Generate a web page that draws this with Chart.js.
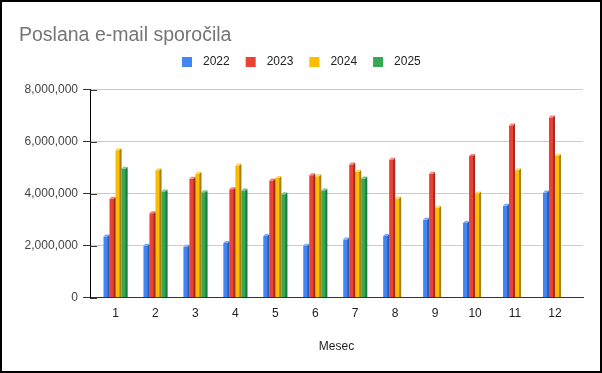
<!DOCTYPE html>
<html>
<head>
<meta charset="utf-8">
<title>Poslana e-mail sporočila</title>
<script src="https://cdn.jsdelivr.net/npm/chart.js@4/dist/chart.umd.min.js"></script>
<style>
    html, body { margin: 0; padding: 0; background: #fff; }
    canvas { display: block; }
</style>
</head>
<body>
<canvas id="emailChart" width="602" height="373"></canvas>
<script>
// Chart data
const months = [1, 2, 3, 4, 5, 6, 7, 8, 9, 10, 11, 12];
const years = ['2022', '2023', '2024', '2025'];
const sent2022 = [2350000, 1990000, 1950000, 2100000, 2370000, 1990000, 2230000, 2370000, 2990000, 2870000, 3530000, 4040000];
const sent2023 = [3800000, 3240000, 4570000, 4160000, 4500000, 4700000, 5120000, 5300000, 4760000, 5440000, 6620000, 6920000];
const sent2024 = [5660000, 4890000, 4760000, 5080000, 4600000, 4660000, 4840000, 3810000, 3450000, 4000000, 4890000, 5440000];
const sent2025 = [4950000, 4080000, 4050000, 4120000, 3970000, 4120000, 4580000, null, null, null, null, null];
const yTicks = [0, 2000000, 4000000, 6000000, 8000000];

// Colours (front, side, top)
const frontColors = ['#4285f4', '#ea4335', '#fbbc04', '#34a853'];
const sideColors = ['#2c5fb3', '#a22c22', '#a88000', '#217a3a'];
const topColors = ['#80aaf8', '#f2837a', '#fdd566', '#7cc893'];

const FONT = "Arial, 'Liberation Sans', sans-serif";

function toPoints(values) {
    return months.map(function(m, i) {
        return { x: m, y: values[i] };
    });
}

// Fake 3D side and top faces on every bar
const bar3d = {
    id: 'bar3d',
    afterDatasetsDraw(chart) {
        const ctx = chart.ctx;
        const depth = 2;
        chart.data.datasets.forEach(function(ds, di) {
            const meta = chart.getDatasetMeta(di);
            meta.data.forEach(function(el, i) {
                if (ds.data[i].y == null) return;
                const p = el.getProps(['x', 'y', 'base', 'width'], true);
                const left = p.x - p.width / 2;
                const right = left + p.width;
                const fx = right - depth;
                ctx.save();
                // side
                ctx.fillStyle = sideColors[di];
                ctx.beginPath();
                ctx.moveTo(fx, p.y);
                ctx.lineTo(right, p.y - depth);
                ctx.lineTo(right, p.base);
                ctx.lineTo(fx, p.base);
                ctx.closePath();
                ctx.fill();
                // top
                ctx.fillStyle = topColors[di];
                ctx.beginPath();
                ctx.moveTo(left, p.y);
                ctx.lineTo(left + depth, p.y - depth);
                ctx.lineTo(right, p.y - depth);
                ctx.lineTo(fx, p.y);
                ctx.closePath();
                ctx.fill();
                ctx.restore();
            });
        });
    }
};

// Legend row, border and inner tick stubs
const decorations = {
    id: 'decorations',
    afterDraw(chart) {
        const ctx = chart.ctx;
        const area = chart.chartArea;
        ctx.save();

        // y tick stubs crossing the axis
        const yScale = chart.scales.y;
        ctx.strokeStyle = '#333';
        ctx.lineWidth = 1;
        yTicks.forEach(function(v) {
            const py = Math.round(yScale.getPixelForValue(v)) + 0.5;
            ctx.beginPath();
            ctx.moveTo(area.left, py);
            ctx.lineTo(area.left + 7, py);
            ctx.stroke();
        });

        // legend
        ctx.font = '12px ' + FONT;
        ctx.textBaseline = 'middle';
        const boxSize = 10, gap = 11, itemGap = 16, legendY = 62;
        const widths = chart.data.datasets.map(function(ds) {
            return boxSize + gap + ctx.measureText(ds.label).width;
        });
        const total = widths.reduce(function(a, b) { return a + b; }, 0) + itemGap * (widths.length - 1);
        let x = Math.round((chart.width - total) / 2);
        chart.data.datasets.forEach(function(ds, i) {
            ctx.fillStyle = ds.backgroundColor;
            ctx.fillRect(x, legendY - boxSize / 2, boxSize, boxSize);
            ctx.fillStyle = '#222';
            ctx.fillText(ds.label, x + boxSize + gap, legendY);
            x += widths[i] + itemGap;
        });

        // outer border
        ctx.strokeStyle = '#000';
        ctx.lineWidth = 2;
        ctx.strokeRect(1, 1, chart.width - 2, chart.height - 2);
        ctx.restore();
    }
};

const datasets = [sent2022, sent2023, sent2024, sent2025].map(function(values, i) {
    return {
        label: years[i],
        data: toPoints(values),
        backgroundColor: frontColors[i],
        borderWidth: 0
    };
});

new Chart(document.getElementById('emailChart'), {
    type: 'bar',
    data: { datasets: datasets },
    plugins: [bar3d, decorations],
    options: {
        responsive: false,
        animation: false,
        events: [],
        categoryPercentage: 0.6,
        barPercentage: 1,
        layout: {
            padding: { top: 0, left: 19, right: 19, bottom: 0 }
        },
        plugins: {
            legend: { display: false },
            tooltip: { enabled: false },
            title: {
                display: true,
                text: 'Poslana e-mail sporočila',
                align: 'start',
                color: '#757575',
                font: { family: FONT, size: 19.5, weight: 'normal' },
                padding: { top: 24, bottom: 42.1 }
            }
        },
        scales: {
            x: {
                type: 'linear',
                min: 0.362,
                max: 12.702,
                offset: false,
                afterFit: function(scale) { scale.height = 75.5; },
                afterBuildTicks: function(scale) {
                    scale.ticks = months.map(function(m) { return { value: m }; });
                },
                grid: { display: false, drawTicks: false },
                border: { display: true, color: '#333' },
                ticks: {
                    padding: 9,
                    color: '#222',
                    font: { family: FONT, size: 12 },
                    maxRotation: 0,
                    autoSkip: false,
                    callback: function(v) { return String(v); }
                },
                title: {
                    display: true,
                    text: 'Mesec',
                    color: '#222',
                    font: { family: FONT, size: 12 },
                    padding: { top: 0, bottom: 19 }
                }
            },
            y: {
                min: 0,
                max: 8000000,
                afterFit: function(scale) { scale.width = 71; },
                afterBuildTicks: function(scale) {
                    scale.ticks = yTicks.map(function(v) { return { value: v }; });
                },
                grid: {
                    color: function(c) { return c.tick && c.tick.value === 0 ? '#333' : '#cccccc'; },
                    tickColor: '#333',
                    tickLength: 7
                },
                border: { display: true, color: '#000' },
                ticks: {
                    padding: 5,
                    color: '#444',
                    font: { family: FONT, size: 12 },
                    callback: function(v) { return v.toLocaleString('en-US'); }
                }
            }
        }
    }
});
</script>
</body>
</html>
